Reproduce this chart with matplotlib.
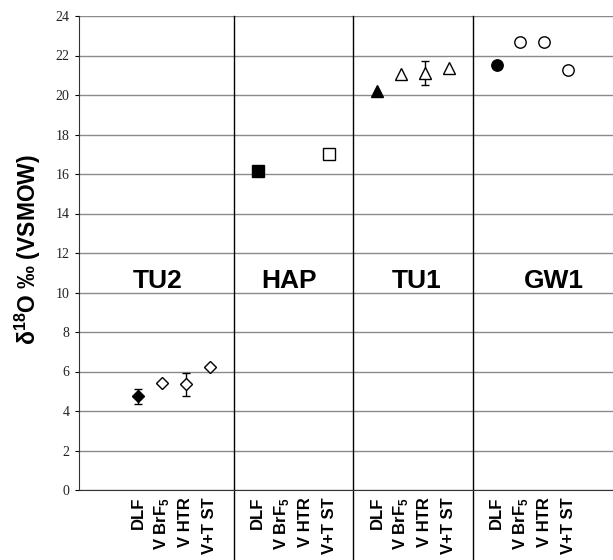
import numpy as np
import matplotlib
matplotlib.use("Agg")
import matplotlib.pyplot as plt

plt.rcParams["mathtext.fontset"] = "custom"
plt.rcParams["mathtext.rm"] = "Liberation Sans"
plt.rcParams["mathtext.bf"] = "Liberation Sans:bold"

# 样品组 / 方法
groups = ["TU2", "HAP", "TU1", "GW1"]
methods = ["DLF", "V BrF$_{\\mathbf{5}}$", "V HTR", "V+T ST"]

# δ18O 值 (‰ VSMOW)，缺测为 nan
tu2_vals = [4.75, 5.43, 5.35, 6.22]
hap_vals = [16.17, np.nan, np.nan, 17.0]
tu1_vals = [20.2, 21.05, 21.12, 21.35]
gw1_vals = [21.51, 22.68, 22.68, 21.29]
tu2_err = [0.38, 0, 0.58, 0]
hap_err = [0, 0, 0, 0]
tu1_err = [0, 0, 0.59, 0]
gw1_err = [0, 0, 0, 0]

group_vals = [tu2_vals, hap_vals, tu1_vals, gw1_vals]
group_errs = [tu2_err, hap_err, tu1_err, gw1_err]
group_markers = [("D", 6.6), ("s", 8.6), ("^", 9.0), ("o", 8.2)]
label_offset = [0.8, 1.3, 1.67, 2.4]   # 组名相对 DLF 的横向位置

fig = plt.figure(figsize=(6.13, 5.6), dpi=100)
ax = fig.add_axes([79 / 613, 70 / 560, 1 - 79 / 613, 474 / 560])

slot = len(methods) + 1
xticks, xlabels = [], []
for g, (name, vals, errs, (mk, ms)) in enumerate(zip(groups, group_vals, group_errs, group_markers)):
    base = g * slot
    for i, (v, e) in enumerate(zip(vals, errs)):
        x = base + i
        xticks.append(x)
        xlabels.append(methods[i])
        if np.isnan(v):
            continue
        face = "black" if i == 0 else "white"
        if e > 0:
            ax.errorbar(x, v, yerr=e, fmt="none", ecolor="black", elinewidth=1,
                        capsize=3.2, capthick=1, zorder=3)
        ax.plot(x, v, marker=mk, ms=ms, mfc=face, mec="black", mew=1.0,
                ls="none", zorder=4)
    ax.text(base + label_offset[g], 10.25, name, ha="center", va="baseline",
            fontsize=19, fontweight="bold", family="Liberation Sans")
    if g > 0:
        ax.axvline(base - 1, ymin=-0.148, ymax=1, color="black", lw=1,
                   clip_on=False, zorder=2)

ax.set_xlim(-2.47, 19.87)
ax.set_ylim(0, 24)
ax.set_yticks(range(0, 25, 2))
ax.set_yticklabels([str(v) for v in range(0, 25, 2)], family="Liberation Serif",
                   fontsize=10, color="#222222")
ax.yaxis.grid(True, color="#8a8a8a", lw=1)
ax.set_axisbelow(True)
ax.tick_params(axis="y", length=3, pad=4)
ax.set_xticks(xticks)
ax.set_xticklabels(xlabels, rotation=90, fontsize=12, fontweight="bold",
                   family="Liberation Sans")
ax.tick_params(axis="x", length=0, pad=5)
for s in ("top", "right"):
    ax.spines[s].set_visible(False)
ax.spines["left"].set_color("#333333")
ax.spines["bottom"].set_color("#333333")

ax.set_ylabel("δ$^{\\mathbf{18}}$O ‰ (VSMOW)", fontsize=16.5, fontweight="bold",
              family="Liberation Sans")
ax.yaxis.set_label_coords(-0.068, 0.508)

fig.savefig("out.png", dpi=100)
